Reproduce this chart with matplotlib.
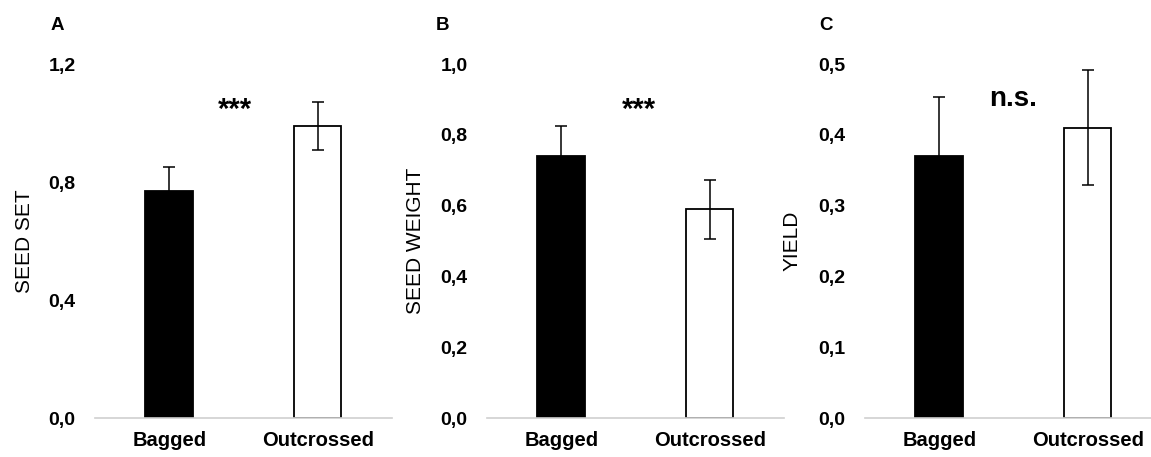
import numpy as np
import matplotlib
matplotlib.use("Agg")
import matplotlib.pyplot as plt

plt.rcParams['font.family'] = ['Liberation Sans', 'DejaVu Sans']

groups = ['Bagged', 'Outcrossed']
letters = ['A', 'B', 'C']
ylabels = ['SEED SET', 'SEED WEIGHT', 'YIELD']

seed_set = [0.77, 0.99]
seed_set_err = [0.08, 0.08]
seed_weight = [0.74, 0.59]
seed_weight_err = [0.085, 0.083]
yield_vals = [0.37, 0.41]
yield_err = [0.083, 0.081]

signif = ['***', '***', 'n.s.']
signif_pos = [(0.44, 1.045), (0.52, 0.87), (0.50, 0.45)]

ymax = [1.2, 1.0, 0.5]
yticks = [[0.0, 0.4, 0.8, 1.2],
          [0.0, 0.2, 0.4, 0.6, 0.8, 1.0],
          [0.0, 0.1, 0.2, 0.3, 0.4, 0.5]]

values = [seed_set, seed_weight, yield_vals]
errors = [seed_set_err, seed_weight_err, yield_err]

fig = plt.figure(figsize=(11.51, 4.57), dpi=100)
lefts = [0.0825, 0.4231, 0.7515]
label_x = [-0.237, -0.242, -0.247]
letter_x = [0.0435, 0.379, 0.712]

for i in range(3):
    ax = fig.add_axes([lefts[i], 0.0853, 0.258, 0.7746])
    x = np.arange(len(groups))
    ax.bar(x, values[i], width=0.32, color=['black', 'white'],
           edgecolor='black', linewidth=1.3, zorder=2)
    ax.errorbar(x, values[i], yerr=errors[i], fmt='none', ecolor='black',
                elinewidth=1.1, capsize=4, capthick=1.1, zorder=3)
    ax.set_xlim(-0.5, 1.5)
    ax.set_ylim(0, ymax[i])
    ax.set_yticks(yticks[i])
    ax.set_yticklabels([('%.1f' % t).replace('.', ',') for t in yticks[i]],
                       fontweight='bold', fontsize=14)
    ax.set_xticks(x)
    ax.set_xticklabels(groups, fontweight='bold', fontsize=14.5)
    ax.tick_params(axis='y', length=0, pad=14)
    ax.tick_params(axis='x', length=0, pad=9)
    for s in ['top', 'right', 'left']:
        ax.spines[s].set_visible(False)
    ax.spines['bottom'].set_color('#cfcfcf')
    ax.spines['bottom'].set_linewidth(1.2)
    ax.set_ylabel(ylabels[i], fontsize=15, va='center')
    ax.yaxis.set_label_coords(label_x[i], 0.5)
    fs = 20 if signif[i] == 'n.s.' else 21
    ax.text(signif_pos[i][0], signif_pos[i][1], signif[i], ha='center', va='center',
            fontsize=fs, fontweight='bold')
    fig.text(letter_x[i], 0.945, letters[i], fontsize=13.5, fontweight='bold',
             ha='left', va='center')

fig.savefig('out.png', dpi=100, facecolor='white')
